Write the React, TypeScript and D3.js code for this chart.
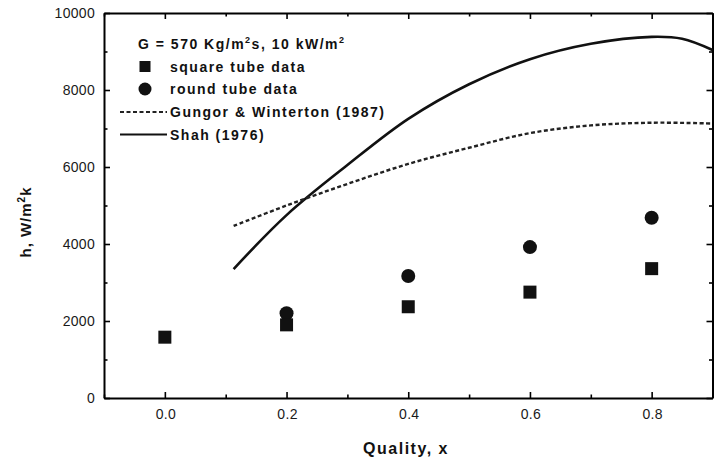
import React, { useEffect, useRef } from "react";
import * as d3 from "d3";

// Measured heat transfer coefficient vs. quality
const squareX = [0.0, 0.2, 0.4, 0.6, 0.8];
const squareH = [1580, 1900, 2370, 2750, 3360];
const roundX = [0.2, 0.4, 0.6, 0.8];
const roundH = [2200, 3170, 3920, 4680];

// Correlation curves
const shahX = [0.113, 0.2, 0.3, 0.4, 0.5, 0.6, 0.7, 0.8, 0.85, 0.9];
const shahH = [3350, 4750, 6050, 7250, 8150, 8800, 9200, 9380, 9330, 9040];
const gungorX = [0.113, 0.2, 0.3, 0.4, 0.5, 0.6, 0.7, 0.8, 0.9];
const gungorH = [4470, 5000, 5560, 6080, 6500, 6880, 7080, 7150, 7130];

const xTicks = [0.0, 0.2, 0.4, 0.6, 0.8];
const xMinor = [-0.1, 0.1, 0.3, 0.5, 0.7, 0.9];
const yTicks = [0, 2000, 4000, 6000, 8000, 10000];
const yMinor = [1000, 3000, 5000, 7000, 9000];

const W = 714;
const H = 462;
const L = 104, R = 712.5, T = 13, B = 398;
const FONT = "Liberation Sans, Arial, sans-serif";

export default function App() {
  const axesRef = useRef<SVGGElement>(null);
  const x = d3.scaleLinear().domain([-0.1, 0.9]).range([L, R]);
  const y = d3.scaleLinear().domain([0, 10000]).range([B, T]);
  const line = d3
    .line<[number, number]>()
    .x((d) => x(d[0]))
    .y((d) => y(d[1]))
    .curve(d3.curveCatmullRom.alpha(0.5));
  const shah = line(shahX.map((v, i) => [v, shahH[i]]) as [number, number][]) || "";
  const gungor = line(gungorX.map((v, i) => [v, gungorH[i]]) as [number, number][]) || "";

  // frame and inward ticks on all four sides, drawn with d3 axes
  useEffect(() => {
    const g = d3.select(axesRef.current);
    g.selectAll("*").remove();
    const style = (sel: any) => {
      sel.selectAll("path").attr("stroke", "#000").attr("stroke-width", 2);
      sel.selectAll("line").attr("stroke", "#000").attr("stroke-width", 1.6);
      sel.selectAll("text").remove();
    };
    const mk = (axis: any, tx: number, ty: number, vals: number[], size: number, domain: boolean) => {
      const a = g.append("g").attr("transform", `translate(${tx},${ty})`);
      a.call(axis.tickValues(vals).tickSize(size).tickSizeOuter(0).tickFormat(() => ""));
      if (!domain) a.select(".domain").remove();
      style(a);
    };
    mk(d3.axisBottom(x), 0, B, xTicks, -6, true);
    mk(d3.axisBottom(x), 0, B, xMinor, -3.5, false);
    mk(d3.axisTop(x), 0, T, xTicks, -6, true);
    mk(d3.axisTop(x), 0, T, xMinor, -3.5, false);
    mk(d3.axisLeft(y), L, 0, yTicks, -6, true);
    mk(d3.axisLeft(y), L, 0, yMinor, -3.5, false);
    mk(d3.axisRight(y), R, 0, yTicks, -6, true);
    mk(d3.axisRight(y), R, 0, yMinor, -3.5, false);
  }, []);

  const tickFont = { fontFamily: FONT, fontSize: 14, fill: "#1a1a1a", letterSpacing: 0.3 };
  const legFont = { fontFamily: FONT, fontSize: 14, fontWeight: 700, fill: "#111", letterSpacing: 1.5 };
  const sq = 13;
  const cr = 7;
  const lx = 170;
  const legY = [44, 66.5, 89, 112, 134.5];

  return (
    <svg width={W} height={H} style={{ position: "absolute", left: 0, top: 0, background: "#fff" }}>
      <g ref={axesRef} fill="none" />

      {/* correlation curves */}
      <path d={shah} fill="none" stroke="#111" strokeWidth={2.6} />
      <path d={gungor} fill="none" stroke="#222" strokeWidth={2.4} strokeDasharray="4 2.5" />

      {/* data markers */}
      {roundX.map((v, i) => (
        <circle key={"c" + i} cx={x(v)} cy={y(roundH[i])} r={cr} fill="#111" />
      ))}
      {squareX.map((v, i) => (
        <rect key={"s" + i} x={x(v) - sq / 2} y={y(squareH[i]) - sq / 2} width={sq} height={sq} fill="#111" />
      ))}

      {xTicks.map((t) => (
        <text key={"xl" + t} x={x(t) + 1} y={419} textAnchor="middle" {...tickFont}>
          {t.toFixed(1)}
        </text>
      ))}
      {yTicks.map((t) => (
        <text key={"yl" + t} x={95} y={y(t) + 5} textAnchor="end" {...tickFont}>
          {t}
        </text>
      ))}

      {/* axis titles */}
      <text x={406} y={454} textAnchor="middle" fontFamily={FONT} fontSize={16} fontWeight={700} letterSpacing={1.5} fill="#111">
        Quality, x
      </text>
      <text
        transform={`translate(31, 222) rotate(-90)`}
        textAnchor="middle"
        fontFamily={FONT}
        fontSize={15}
        fontWeight={700}
        letterSpacing={1}
        fill="#111"
      >
        h, W/m<tspan dy={-6} fontSize={10}>2</tspan>
        <tspan dy={6}>k</tspan>
      </text>

      {/* legend */}
      <text x={138} y={legY[0] + 5} {...legFont}>
        G = 570 Kg/m<tspan dy={-6} fontSize={9}>2</tspan>
        <tspan dy={6}>s, 10 kW/m</tspan>
        <tspan dy={-6} fontSize={9}>2</tspan>
      </text>
      <rect x={145 - 5.5} y={legY[1] - 5.5} width={11} height={11} fill="#111" />
      <text x={lx} y={legY[1] + 5} {...legFont}>square tube data</text>
      <circle cx={145} cy={legY[2]} r={6.5} fill="#111" />
      <text x={lx} y={legY[2] + 5} {...legFont}>round tube data</text>
      <line x1={120} x2={167} y1={legY[3]} y2={legY[3]} stroke="#222" strokeWidth={2.2} strokeDasharray="4 2.5" />
      <text x={lx} y={legY[3] + 5} {...legFont}>Gungor &amp; Winterton (1987)</text>
      <line x1={120} x2={167} y1={legY[4]} y2={legY[4]} stroke="#111" strokeWidth={2} />
      <text x={lx} y={legY[4] + 5} {...legFont}>Shah (1976)</text>
    </svg>
  );
}
